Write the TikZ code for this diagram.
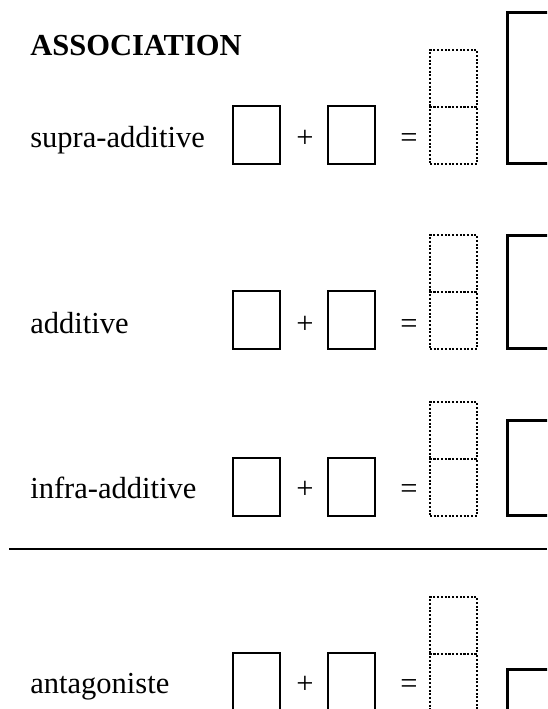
\documentclass[tikz,border=0pt]{standalone}
\usepackage{fontspec}
\setmainfont{Liberation Serif}

\begin{document}
\begin{tikzpicture}[x=0.75pt, y=-0.75pt,
		every node/.style={inner sep=0pt, font=\fontsize{22.9}{27}\selectfont},
		box/.style={draw, line width=1.4pt, minimum width=35.25pt, minimum height=43.5pt, anchor=south west},
		half/.style={draw, line width=1.5pt, dash pattern=on 1.5pt off 1.3pt, minimum width=35.25pt, minimum height=42.75pt, anchor=south west},
		big/.style={draw, line width=1.9pt, minimum width=60pt, anchor=south west}]
			\useasboundingbox (0,0) rectangle (547,709);
			\clip (0,0) rectangle (547,709);
			\node[anchor=base west, font=\fontsize{22.9}{27}\selectfont\bfseries] (T) at (30,56) {ASSOCIATION};
			
			% supra-additive
			\node[anchor=base west] (L1) at (30,148) {supra-additive};
			\node[box] (A1) at (232,165) {};
			\node[anchor=base] (P1) at (305,148) {+};
			\node[box] (B1) at (327,165) {};
			\node[anchor=base] (E1) at (409,148) {=};
			\node[half] (C1) at (429,165) {};
			\node[half] (D1) at (429,108) {};
			\node[big, minimum height=113.25pt] (F1) at (506,165) {};
			
			% additive
			\node[anchor=base west] (L2) at (30,333) {additive};
			\node[box] (A2) at (232,350) {};
			\node[anchor=base] (P2) at (305,333) {+};
			\node[box] (B2) at (327,350) {};
			\node[anchor=base] (E2) at (409,333) {=};
			\node[half] (C2) at (429,350) {};
			\node[half] (D2) at (429,293) {};
			\node[big, minimum height=84.75pt] (F2) at (506,350) {};
			
			% infra-additive
			\node[anchor=base west] (L3) at (30,498) {infra-additive};
			\node[box] (A3) at (232,517) {};
			\node[anchor=base] (P3) at (305,498) {+};
			\node[box] (B3) at (327,517) {};
			\node[anchor=base] (E3) at (409,498) {=};
			\node[half] (C3) at (429,517) {};
			\node[half] (D3) at (429,460) {};
			\node[big, minimum height=71.25pt] (F3) at (506,517) {};
			
			% rule
			\coordinate (R1) at (9,549);
			\coordinate (R2) at (547,549);
			\draw[line width=1.6pt] (R1) -- (R2);
			
			% antagoniste
			\node[anchor=base west] (L4) at (30,693) {antagoniste};
			\node[box] (A4) at (232,712) {};
			\node[anchor=base] (P4) at (305,693) {+};
			\node[box] (B4) at (327,712) {};
			\node[anchor=base] (E4) at (409,693) {=};
			\node[half] (C4) at (429,712) {};
			\node[half] (D4) at (429,655) {};
			\node[big, minimum height=30.75pt] (F4) at (506,712) {};
		\end{tikzpicture}
\end{document}
